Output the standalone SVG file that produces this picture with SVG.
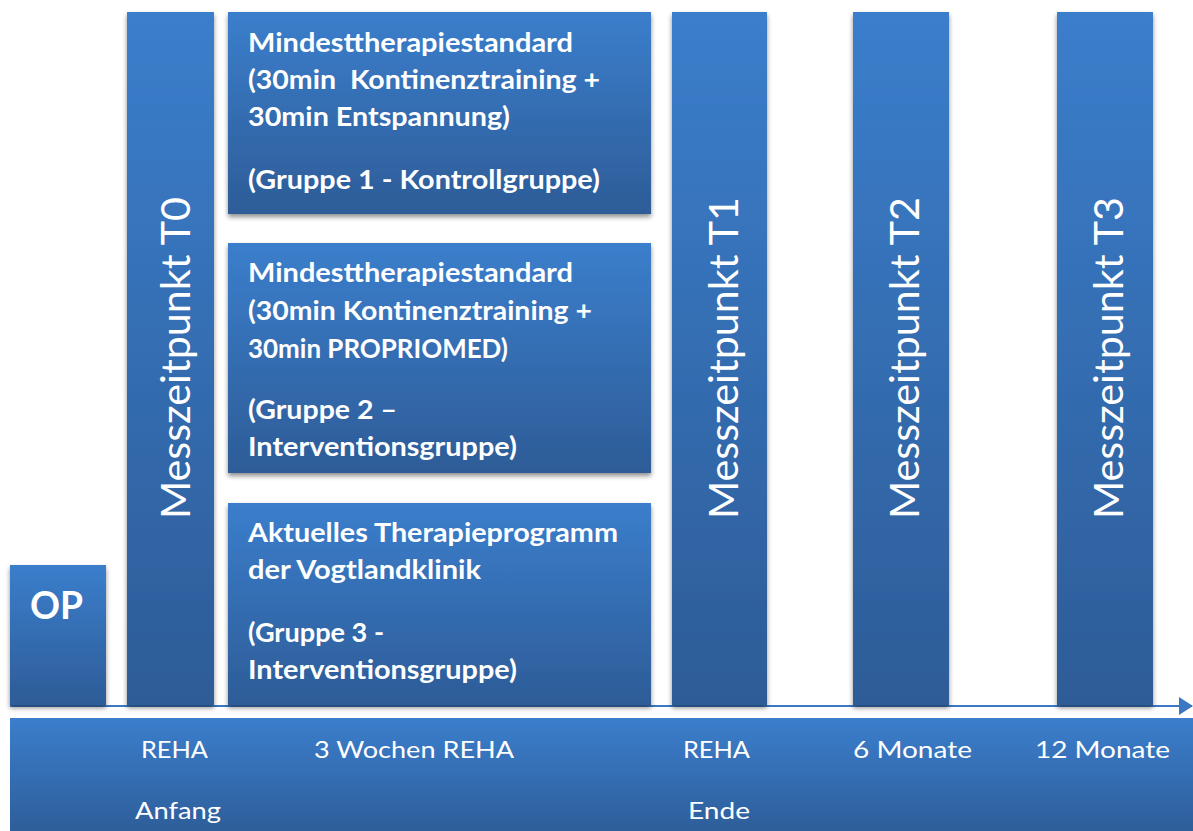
<svg xmlns="http://www.w3.org/2000/svg" width="1193" height="831" viewBox="0 0 1193 831">
<defs>
<linearGradient id="g" x1="0" y1="0" x2="0" y2="1">
<stop offset="0" stop-color="#3b7ecc"/>
<stop offset="1" stop-color="#2d5c97"/>
</linearGradient>
<filter id="sh" x="-10%" y="-10%" width="120%" height="120%">
<feGaussianBlur in="SourceAlpha" stdDeviation="2.5"/>
<feOffset dx="0" dy="3" result="b"/>
<feComponentTransfer><feFuncA type="linear" slope="0.45"/></feComponentTransfer>
<feMerge><feMergeNode/><feMergeNode in="SourceGraphic"/></feMerge>
</filter>
<marker id="arr" markerWidth="14" markerHeight="18" refX="13" refY="9" orient="auto" markerUnits="userSpaceOnUse">
<path d="M0,0 L14,9 L0,18 Z" fill="#3b78c4"/>
</marker>
</defs>
<style>
.box{fill:url(#g);filter:url(#sh);}
.bt{font-family:Lato,"Open Sans",sans-serif;font-weight:bold;font-size:27px;fill:#fff;}
.rt{font-family:Lato,"Open Sans",sans-serif;font-size:41px;fill:#fff;}
.ax{font-family:Lato,"Open Sans",sans-serif;font-size:24px;fill:#fff;}
</style>
<g id="connectors">
<line x1="10" y1="706" x2="1192" y2="706" stroke="#3b78c4" stroke-width="2" marker-end="url(#arr)"/>
</g>
<g id="op">
<rect class="box" x="10" y="565" width="96" height="140"/>
<text class="bt" x="30" y="619" style="font-size:38px" textLength="53" lengthAdjust="spacingAndGlyphs">OP</text>
</g>
<g id="t0">
<rect class="box" x="127" y="12" width="87" height="693"/>
<text class="rt" transform="translate(190,519) rotate(-90)" textLength="322" lengthAdjust="spacingAndGlyphs">Messzeitpunkt T0</text>
</g>
<g id="gruppe1">
<rect class="box" x="228" y="12" width="423" height="202"/>
<text class="bt" x="248" y="52" textLength="325" lengthAdjust="spacingAndGlyphs">Mindesttherapiestandard</text>
<text class="bt" x="248" y="89" textLength="352" lengthAdjust="spacingAndGlyphs" xml:space="preserve">(30min  Kontinenztraining +</text>
<text class="bt" x="248" y="126" textLength="262" lengthAdjust="spacingAndGlyphs">30min Entspannung)</text>
<text class="bt" x="248" y="189" textLength="352" lengthAdjust="spacingAndGlyphs">(Gruppe 1 - Kontrollgruppe)</text>
</g>
<g id="gruppe2">
<rect class="box" x="228" y="243" width="423" height="230"/>
<text class="bt" x="248" y="282" textLength="325" lengthAdjust="spacingAndGlyphs">Mindesttherapiestandard</text>
<text class="bt" x="248" y="320" textLength="344" lengthAdjust="spacingAndGlyphs">(30min Kontinenztraining +</text>
<text class="bt" x="248" y="358" textLength="260" lengthAdjust="spacingAndGlyphs">30min PROPRIOMED)</text>
<text class="bt" x="248" y="419" textLength="149" lengthAdjust="spacingAndGlyphs">(Gruppe 2 –</text>
<text class="bt" x="248" y="456" textLength="269" lengthAdjust="spacingAndGlyphs">Interventionsgruppe)</text>
</g>
<g id="gruppe3">
<rect class="box" x="228" y="503" width="423" height="202"/>
<text class="bt" x="248" y="542" textLength="370" lengthAdjust="spacingAndGlyphs">Aktuelles Therapieprogramm</text>
<text class="bt" x="248" y="579" textLength="233" lengthAdjust="spacingAndGlyphs">der Vogtlandklinik</text>
<text class="bt" x="248" y="642" textLength="136" lengthAdjust="spacingAndGlyphs">(Gruppe 3 -</text>
<text class="bt" x="248" y="679" textLength="269" lengthAdjust="spacingAndGlyphs">Interventionsgruppe)</text>
</g>
<g id="t1">
<rect class="box" x="672" y="12" width="95" height="693"/>
<text class="rt" transform="translate(738,519) rotate(-90)" textLength="322" lengthAdjust="spacingAndGlyphs">Messzeitpunkt T1</text>
</g>
<g id="t2">
<rect class="box" x="853" y="12" width="96" height="693"/>
<text class="rt" transform="translate(919,519) rotate(-90)" textLength="322" lengthAdjust="spacingAndGlyphs">Messzeitpunkt T2</text>
</g>
<g id="t3">
<rect class="box" x="1057" y="12" width="96" height="693"/>
<text class="rt" transform="translate(1123,519) rotate(-90)" textLength="322" lengthAdjust="spacingAndGlyphs">Messzeitpunkt T3</text>
</g>
<g id="timeline">
<rect x="10" y="718" width="1190" height="120" fill="url(#g)"/>
<text class="ax" x="141" y="758" textLength="67" lengthAdjust="spacingAndGlyphs">REHA</text>
<text class="ax" x="135" y="819" textLength="86" lengthAdjust="spacingAndGlyphs">Anfang</text>
<text class="ax" x="314" y="758" textLength="200" lengthAdjust="spacingAndGlyphs">3 Wochen REHA</text>
<text class="ax" x="683" y="758" textLength="67" lengthAdjust="spacingAndGlyphs">REHA</text>
<text class="ax" x="688" y="819" textLength="62" lengthAdjust="spacingAndGlyphs">Ende</text>
<text class="ax" x="853" y="758" textLength="119" lengthAdjust="spacingAndGlyphs">6 Monate</text>
<text class="ax" x="1035" y="758" textLength="135" lengthAdjust="spacingAndGlyphs">12 Monate</text>
</g>
</svg>
